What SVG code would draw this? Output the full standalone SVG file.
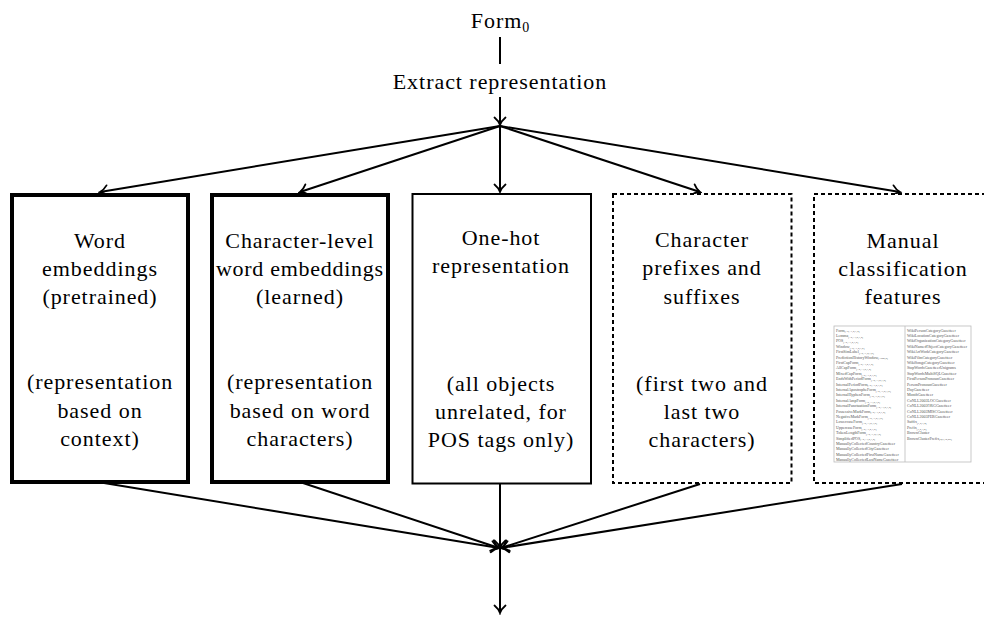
<svg xmlns="http://www.w3.org/2000/svg" width="984" height="617" viewBox="0 0 984 617">
  <style>
    .t { font-family: "Liberation Serif", "Times New Roman", serif; font-size: 22px; letter-spacing: 0.95px; fill: #000; text-anchor: middle; }
    .sub { font-size: 14px; letter-spacing: 0; }
    .conn { stroke: #000; stroke-width: 2; fill: none; }
    .thick { fill: #fff; stroke: #000; stroke-width: 4; }
    .thin { fill: #fff; stroke: #000; stroke-width: 2; }
    .dash { fill: #fff; stroke: #000; stroke-width: 2; stroke-dasharray: 4 3; }
    .tbl { font-family: "Liberation Serif", "Times New Roman", serif; font-size: 4px; fill: #555; }
    .tbl tspan.s { font-size: 2.8px; }
  </style>
  <defs>
    <marker id="arr" viewBox="-9 -7 11 14" refX="0" refY="0" markerWidth="11" markerHeight="14" markerUnits="userSpaceOnUse" orient="auto">
      <path d="M-7.5,-5.5 C-5,-2.5 -2,-0.6 0,0 C-2,0.6 -5,2.5 -7.5,5.5" fill="none" stroke="#000" stroke-width="1.8" stroke-linecap="round"/>
    </marker>
  </defs>
  <rect width="984" height="617" fill="#fff"/>

  <!-- input form and extraction step -->
  <g id="form">
    <text class="t" x="500" y="28">Form<tspan class="sub" dy="4">0</tspan></text>
  </g>
  <g id="extract">
    <text class="t" x="500" y="89">Extract representation</text>
  </g>

  <!-- connectors -->
  <g id="connectors">
    <line class="conn" x1="500" y1="37" x2="500" y2="64"/>
    <line class="conn" x1="500" y1="97" x2="500" y2="125" marker-end="url(#arr)"/>
    <line class="conn" x1="500" y1="126" x2="100" y2="192" marker-end="url(#arr)"/>
    <line class="conn" x1="500" y1="126" x2="300" y2="192" marker-end="url(#arr)"/>
    <line class="conn" x1="500" y1="126" x2="500" y2="192" marker-end="url(#arr)"/>
    <line class="conn" x1="500" y1="126" x2="700" y2="192" marker-end="url(#arr)"/>
    <line class="conn" x1="500" y1="126" x2="900" y2="192" marker-end="url(#arr)"/>
    <line class="conn" x1="104" y1="483" x2="499" y2="548" marker-end="url(#arr)"/>
    <line class="conn" x1="303" y1="483" x2="499" y2="548" marker-end="url(#arr)"/>
    <line class="conn" x1="500" y1="484" x2="500" y2="548" marker-end="url(#arr)"/>
    <line class="conn" x1="700" y1="484" x2="501" y2="548" marker-end="url(#arr)"/>
    <line class="conn" x1="902" y1="484" x2="501" y2="548" marker-end="url(#arr)"/>
    <line class="conn" x1="500" y1="548" x2="500" y2="613" marker-end="url(#arr)"/>
  </g>

  <!-- representation boxes -->
  <g id="word-embeddings">
    <rect class="thick" x="12" y="195" width="176" height="287"/>
    <text class="t" x="100" y="248">Word</text>
    <text class="t" x="100" y="276">embeddings</text>
    <text class="t" x="100" y="304">(pretrained)</text>
    <text class="t" x="100" y="389">(representation</text>
    <text class="t" x="100" y="418">based on</text>
    <text class="t" x="100" y="446">context)</text>
  </g>

  <g id="char-embeddings">
    <rect class="thick" x="212" y="195" width="176" height="287"/>
    <text class="t" x="300" y="248">Character-level</text>
    <text class="t" x="300" y="276" textLength="168">word embeddings</text>
    <text class="t" x="300" y="304">(learned)</text>
    <text class="t" x="300" y="389">(representation</text>
    <text class="t" x="300" y="418">based on word</text>
    <text class="t" x="300" y="446">characters)</text>
  </g>

  <g id="one-hot">
    <rect class="thin" x="412.5" y="194" width="178.5" height="289.5"/>
    <text class="t" x="501" y="245">One-hot</text>
    <text class="t" x="501" y="273">representation</text>
    <text class="t" x="501" y="391">(all objects</text>
    <text class="t" x="501" y="419">unrelated, for</text>
    <text class="t" x="501" y="447">POS tags only)</text>
  </g>

  <g id="affixes">
    <rect class="dash" x="613" y="194" width="178.5" height="289"/>
    <text class="t" x="702" y="247">Character</text>
    <text class="t" x="702" y="275">prefixes and</text>
    <text class="t" x="702" y="304">suffixes</text>
    <text class="t" x="702" y="391">(first two and</text>
    <text class="t" x="702" y="419">last two</text>
    <text class="t" x="702" y="447">characters)</text>
  </g>

  <g id="manual-features">
    <rect class="dash" x="814" y="194" width="180" height="289"/>
    <text class="t" x="903" y="248">Manual</text>
    <text class="t" x="903" y="276">classification</text>
    <text class="t" x="903" y="304">features</text>

    <!-- feature list -->
    <rect x="834" y="326" width="137" height="136" fill="#fff" stroke="#bbb" stroke-width="0.8"/>
    <line x1="905" y1="326" x2="905" y2="462" stroke="#bbb" stroke-width="0.8"/>
    <text class="tbl">
      <tspan x="836" y="331.5">Form<tspan class="s" dy="0.8">[−2,−1,0,1,2]</tspan></tspan>
      <tspan x="836" y="336.9">Lemma<tspan class="s" dy="0.8">[−2,−1,0,1,2]</tspan></tspan>
      <tspan x="836" y="342.3">POS<tspan class="s" dy="0.8">[−2,−1,0,1,2]</tspan></tspan>
      <tspan x="836" y="347.7">Window<tspan class="s" dy="0.8">[−2,−1,0,1,2]</tspan></tspan>
      <tspan x="836" y="353.1">FirstSimLabel<tspan class="s" dy="0.8">[−2,−1,0,1,2]</tspan></tspan>
      <tspan x="836" y="358.5">PredictionHistoryWindow<tspan class="s" dy="0.8">[−500,0]</tspan></tspan>
      <tspan x="836" y="363.9">FirstCapForm<tspan class="s" dy="0.8">[−2,−1,0,1,2]</tspan></tspan>
      <tspan x="836" y="369.3">AllCapForm<tspan class="s" dy="0.8">[−2,−1,0,1,2]</tspan></tspan>
      <tspan x="836" y="374.7">MixedCapForm<tspan class="s" dy="0.8">[−2,−1,0,1,2]</tspan></tspan>
      <tspan x="836" y="380.1">EndsWithPeriodForm<tspan class="s" dy="0.8">[−2,−1,0,1,2]</tspan></tspan>
      <tspan x="836" y="385.5">InternalPeriodForm<tspan class="s" dy="0.8">[−2,−1,0,1,2]</tspan></tspan>
      <tspan x="836" y="390.9">InternalApostropheForm<tspan class="s" dy="0.8">[−2,−1,0,1,2]</tspan></tspan>
      <tspan x="836" y="396.3">InternalHyphenForm<tspan class="s" dy="0.8">[−2,−1,0,1,2]</tspan></tspan>
      <tspan x="836" y="401.7">InternalAmpForm<tspan class="s" dy="0.8">[−2,−1,0,1,2]</tspan></tspan>
      <tspan x="836" y="407.1">InternalPunctuationForm<tspan class="s" dy="0.8">[−2,−1,0,1,2]</tspan></tspan>
      <tspan x="836" y="412.5">PossessiveMarkForm<tspan class="s" dy="0.8">[−2,−1,0,1,2]</tspan></tspan>
      <tspan x="836" y="417.9">NegativeMarkForm<tspan class="s" dy="0.8">[−2,−1,0,1,2]</tspan></tspan>
      <tspan x="836" y="423.3">LowercaseForm<tspan class="s" dy="0.8">[−2,−1,0,1,2]</tspan></tspan>
      <tspan x="836" y="428.7">UppercaseForm<tspan class="s" dy="0.8">[−2,−1,0,1,2]</tspan></tspan>
      <tspan x="836" y="434.1">TokenLengthForm<tspan class="s" dy="0.8">[−2,−1,0,1,2]</tspan></tspan>
      <tspan x="836" y="439.5">SimplifiedPOS<tspan class="s" dy="0.8">[−2,−1,0,1,2]</tspan></tspan>
      <tspan x="836" y="444.9">ManuallyCollectedCountryGazetteer</tspan>
      <tspan x="836" y="450.3">ManuallyCollectedCityGazetteer</tspan>
      <tspan x="836" y="455.7">ManuallyCollectedFirstNameGazetteer</tspan>
      <tspan x="836" y="461.1">ManuallyCollectedLastNameGazetteer</tspan>
    </text>
    <text class="tbl">
      <tspan x="907" y="331.5">WikiPersonCategoryGazetteer</tspan>
      <tspan x="907" y="336.9">WikiLocationCategoryGazetteer</tspan>
      <tspan x="907" y="342.3">WikiOrganizationCategoryGazetteer</tspan>
      <tspan x="907" y="347.7">WikiNamedObjectCategoryGazetteer</tspan>
      <tspan x="907" y="353.1">WikiArtWorkCategoryGazetteer</tspan>
      <tspan x="907" y="358.5">WikiFilmCategoryGazetteer</tspan>
      <tspan x="907" y="363.9">WikiSongsCategoryGazetteer</tspan>
      <tspan x="907" y="369.3">StopWordsGazetteerUnigrams</tspan>
      <tspan x="907" y="374.7">StopWordsMultiSQLGazetteer</tspan>
      <tspan x="907" y="380.1">FirstPersonPronounGazetteer</tspan>
      <tspan x="907" y="385.5">PersonPronounGazetteer</tspan>
      <tspan x="907" y="390.9">DayGazetteer</tspan>
      <tspan x="907" y="396.3">MonthGazetteer</tspan>
      <tspan x="907" y="401.7">CoNLL2003LOCGazetteer</tspan>
      <tspan x="907" y="407.1">CoNLL2003ORGGazetteer</tspan>
      <tspan x="907" y="412.5">CoNLL2003MISCGazetteer</tspan>
      <tspan x="907" y="417.9">CoNLL2003PERGazetteer</tspan>
      <tspan x="907" y="423.3">Suffix<tspan class="s" dy="0.8">[1,2,3,4]</tspan></tspan>
      <tspan x="907" y="428.7">Prefix<tspan class="s" dy="0.8">[1,2,3,4]</tspan></tspan>
      <tspan x="907" y="434.1">BrownCluster</tspan>
      <tspan x="907" y="439.5">BrownClusterPrefix<tspan class="s" dy="0.8">[4,6,10,20]</tspan></tspan>
    </text>
  </g>
</svg>
